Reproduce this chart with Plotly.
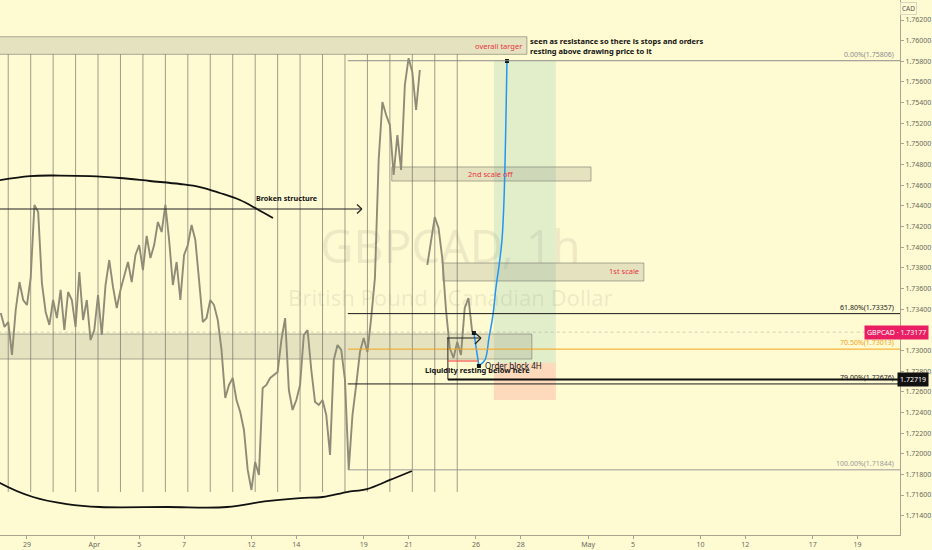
import pandas as pd
import plotly.graph_objects as go

# GBPCAD 1h closes, one value every 4 hours (weekdays only)
prices = [
    1.73363,
    1.73227, 1.73276, 1.72956, 1.73392, 1.73663, 1.73489,  # Mar 26
    1.73440, 1.73702, 1.74409, 1.74341, 1.73653, 1.73373,  # Mar 29
    1.73247, 1.73489, 1.73314, 1.73586, 1.73198, 1.73566,
    1.73489, 1.73227, 1.73760, 1.73295, 1.73489, 1.73101,
    1.73198, 1.73537, 1.73150, 1.73634, 1.73876, 1.73615,
    1.73411, 1.73586, 1.73731, 1.73857, 1.73663, 1.73925,
    1.74021, 1.73779, 1.74109, 1.73895, 1.74021, 1.74244,  # Apr 5
    1.74147, 1.74409, 1.74070, 1.73634, 1.73857, 1.73489,
    1.73925, 1.74021, 1.74215, 1.74070, 1.73682, 1.73276,
    1.73314, 1.73489, 1.73440, 1.73295, 1.73005, 1.72540,
    1.72666, 1.72734, 1.72520, 1.72404, 1.72230, 1.71843,
    1.71649, 1.71920, 1.71794, 1.72637, 1.72666, 1.72734,  # Apr 12
    1.72763, 1.72792, 1.73101, 1.73314, 1.72617, 1.72424,
    1.72520, 1.72666, 1.73150, 1.73198, 1.72811, 1.72501,
    1.72472, 1.72520, 1.72375, 1.71988, 1.72908, 1.73053,
    1.73005, 1.72714, 1.71844, 1.72375, 1.72666, 1.72985,
    1.73121, 1.72985, 1.73314, 1.73702, 1.74844, 1.75406,  # Apr 19
    1.75280, 1.75183, 1.74699, 1.75086, 1.74748, 1.75571,
    1.75830, 1.75696, 1.75329, 1.75716, None, 1.73828,
    1.74070, 1.74292, 1.74186, 1.73895, 1.73392, 1.73024,
    1.72927, 1.73082, 1.72956, 1.73411, 1.73508, 1.73177,
]
times = pd.date_range("2021-03-25 20:00", "2021-04-23 20:00", freq="4h")
times = times[times.dayofweek < 5][: len(prices)]

last_price = 1.73177
ray_price = 1.72719

# fib retracement from the Apr 16 low to the Apr 21 high
fib_labels = ["0.00%", "61.80%", "70.50%", "79.00%", "100.00%"]
fib_prices = [1.75806, 1.73357, 1.73013, 1.72676, 1.71844]
fib_colors = ["#8e8e8e", "#1c1c1c", "#f5a31a", "#1c1c1c", "#9a9a9a"]
fib_start = "2021-04-16 07:00"

# boxes drawn on the chart
zone_x0 = ["2021-03-22", "2021-04-20 06:00", "2021-04-22 12:45", "2021-03-22"]
zone_x1 = ["2021-04-28 06:30", "2021-05-03 03:00", "2021-05-05 11:30", "2021-04-28 11:45"]
zone_low = [1.75868, 1.74641, 1.73673, 1.72917]
zone_high = [1.76038, 1.74777, 1.73847, 1.73159]

# long position tool
pos_x0, pos_x1 = "2021-04-26 19:10", "2021-04-29 13:30"
pos_entry, pos_target, pos_stop = 1.72879, 1.75806, 1.72520

# vertical session lines
day_lines = pd.bdate_range("2021-03-26", "2021-04-23") + pd.Timedelta(hours=4)
day_line_low, day_line_high = 1.71630, 1.75868

# hand drawn arcs
top_arc_t = ["2021-03-25 13:40", "2021-03-29 03:10", "2021-03-30 11:15", "2021-03-31 19:25",
             "2021-04-02 03:25", "2021-04-05 11:30", "2021-04-06 19:40", "2021-04-07 17:00",
             "2021-04-08 14:20", "2021-04-09 11:45", "2021-04-12 05:50", "2021-04-12 23:00"]
top_arc_p = [1.74641, 1.74689, 1.74694, 1.74689, 1.74670, 1.74641, 1.74612, 1.74583,
             1.74525, 1.74457, 1.74370, 1.74283]
bottom_arc_t = ["2021-03-25 12:00", "2021-03-25 19:12", "2021-03-29 06:30", "2021-03-30 18:40",
                "2021-04-01 06:00", "2021-04-06 05:45", "2021-04-08 21:50", "2021-04-12 16:30",
                "2021-04-14 03:50", "2021-04-15 04:20", "2021-04-16 06:00", "2021-04-19 03:20",
                "2021-04-20 04:05", "2021-04-21 03:35"]
bottom_arc_p = [1.71760, 1.71717, 1.71581, 1.71513, 1.71484, 1.71484, 1.71484, 1.71542,
                1.71571, 1.71581, 1.71629, 1.71658, 1.71746, 1.71833]

# projected path (blue)
proj_t = ["2021-04-23 21:50", "2021-04-26 03:10", "2021-04-26 09:40", "2021-04-26 13:55",
          "2021-04-26 18:10", "2021-04-26 21:20", "2021-04-27 00:30", "2021-04-27 03:50",
          "2021-04-27 06:00", "2021-04-27 09:10"]
proj_p = [1.73169, 1.72850, 1.72908, 1.73121, 1.73343, 1.73605, 1.73808, 1.74070,
          1.74457, 1.75803]

# arrows: broken structure + order block
bs_price, bs_x0, bs_x1, bs_arm = 1.74370, "2021-03-22", "2021-04-16 22:00", "2021-04-16 16:50"
ob_price, ob_x0, ob_x1, ob_arm = 1.73121, "2021-04-22 17:00", "2021-04-26 05:20", "2021-04-23 23:00"
ob_left, ob_pink_end, ob_pink = "2021-04-22 18:00", "2021-04-26 02:10", 1.72898

x_ticks = ["2021-03-29", "2021-04-01", "2021-04-05", "2021-04-07", "2021-04-12", "2021-04-14",
           "2021-04-19", "2021-04-21", "2021-04-26", "2021-04-28", "2021-05-03", "2021-05-05",
           "2021-05-10", "2021-05-12", "2021-05-17", "2021-05-19"]
x_tick_text = ["29", "Apr", "5", "7", "12", "14", "19", "21", "26", "28", "May", "5",
               "10", "12", "17", "19"]

# price scale ticks (1.73200 sits under the last-price label)
y_ticks = [1.714, 1.716, 1.718, 1.720, 1.722, 1.724, 1.726, 1.728, 1.730, 1.734, 1.736,
           1.738, 1.740, 1.742, 1.744, 1.746, 1.748, 1.750, 1.752, 1.754, 1.756, 1.758,
           1.760, 1.762]

bg = "#fefad2"
font = "Noto Sans"
far_right = "2021-06-30"

fig = go.Figure()
shapes = []

# long position zones
shapes.append(dict(type="rect", x0=pos_x0, x1=pos_x1, y0=pos_entry, y1=pos_target,
                   fillcolor="rgba(0,150,136,0.11)", line_width=0, layer="below"))
shapes.append(dict(type="rect", x0=pos_x0, x1=pos_x1, y0=pos_stop, y1=pos_entry,
                   fillcolor="rgba(242,54,69,0.16)", line_width=0, layer="below"))

for x0, x1, lo, hi in zip(zone_x0, zone_x1, zone_low, zone_high):
    shapes.append(dict(type="rect", x0=x0, x1=x1, y0=lo, y1=hi,
                       fillcolor="rgba(128,128,120,0.2)",
                       line=dict(color="rgba(110,110,100,0.55)", width=1), layer="below"))

for t in day_lines:
    shapes.append(dict(type="line", x0=t, x1=t, y0=day_line_low, y1=day_line_high,
                       line=dict(color="rgba(100,100,90,0.62)", width=1), layer="below"))

# fib lines
for p, c in zip(fib_prices, fib_colors):
    shapes.append(dict(type="line", x0=fib_start, x1=far_right, y0=p, y1=p,
                       line=dict(color=c, width=1)))

# last price dotted line
shapes.append(dict(type="line", x0="2021-03-22", x1=far_right, y0=last_price, y1=last_price,
                   line=dict(color="rgba(120,120,120,0.3)", width=1, dash="dot")))

# broken structure arrow
shapes.append(dict(type="line", x0=bs_x0, x1=bs_x1, y0=bs_price, y1=bs_price,
                   line=dict(color="#222", width=1.2)))
for dy in (0.00043, -0.00044):
    shapes.append(dict(type="line", x0=bs_arm, x1=bs_x1, y0=bs_price + dy, y1=bs_price,
                       line=dict(color="#222", width=1.2)))

# order block arrow / liquidity box
shapes.append(dict(type="line", x0=ob_x0, x1=ob_x1, y0=ob_price, y1=ob_price,
                   line=dict(color="#222", width=1.2)))
for dy in (0.00048, -0.00058):
    shapes.append(dict(type="line", x0=ob_arm, x1=ob_x1, y0=ob_price + dy, y1=ob_price,
                       line=dict(color="#222", width=1.2)))
shapes.append(dict(type="line", x0=ob_left, x1=ob_left, y0=ob_price, y1=ray_price,
                   line=dict(color="#222", width=1)))
shapes.append(dict(type="line", x0=ob_left, x1=ob_pink_end, y0=ob_pink, y1=ob_pink,
                   line=dict(color="rgba(242,80,80,0.6)", width=2)))
shapes.append(dict(type="line", x0=ob_left, x1=far_right, y0=ray_price, y1=ray_price,
                   line=dict(color="#111", width=2)))

# price
fig.add_trace(go.Scatter(x=times, y=prices, mode="lines",
                         line=dict(color="#8e8c77", width=1.9), hoverinfo="skip"))

# arcs
fig.add_trace(go.Scatter(x=top_arc_t, y=top_arc_p, mode="lines", line_shape="spline",
                         line=dict(color="#111", width=1.8), hoverinfo="skip"))
fig.add_trace(go.Scatter(x=bottom_arc_t, y=bottom_arc_p, mode="lines", line_shape="spline",
                         line=dict(color="#111", width=1.8), hoverinfo="skip"))

# projection
fig.add_trace(go.Scatter(x=proj_t[:2], y=proj_p[:2], mode="lines",
                         line=dict(color="#2196f3", width=1.5), hoverinfo="skip"))
fig.add_trace(go.Scatter(x=proj_t[1:], y=proj_p[1:], mode="lines", line_shape="spline",
                         line=dict(color="#2196f3", width=1.5), hoverinfo="skip"))
fig.add_trace(go.Scatter(x=[proj_t[0], proj_t[1], proj_t[-1]],
                         y=[proj_p[0], proj_p[1], proj_p[-1]], mode="markers",
                         marker=dict(symbol="square", size=4, color="#111"), hoverinfo="skip"))

annotations = []

# watermark
annotations.append(dict(xref="paper", yref="paper", x=0.5, y=0.542, text="GBPCAD, 1h",
                        showarrow=False, font=dict(family=font, size=46,
                                                   color="rgba(120,120,110,0.13)")))
annotations.append(dict(xref="paper", yref="paper", x=0.5, y=0.445,
                        text="British Pound / Canadian Dollar", showarrow=False,
                        font=dict(family=font, size=22, color="rgba(120,120,110,0.13)")))

red = "#e8343f"
annotations.append(dict(x="2021-04-28 03:20", y=1.75948, text="overall targer",
                        xanchor="right", showarrow=False,
                        font=dict(family=font, size=7.5, color=red)))
annotations.append(dict(x="2021-04-28 07:40", y=1.75948, xanchor="left", align="left",
                        text="<b>seen as resistance so there is stops and orders<br>"
                             "resting above drawing price to it</b>",
                        showarrow=False, font=dict(family=font, size=7.5, color="#111")))
annotations.append(dict(x="2021-04-13 13:00", y=1.74476, text="<b>Broken structure</b>",
                        showarrow=False, font=dict(family=font, size=7.2, color="#111")))
annotations.append(dict(x="2021-04-26 16:00", y=1.74709, text="2nd scale off",
                        showarrow=False, font=dict(family=font, size=7.5, color=red)))
annotations.append(dict(x="2021-05-05 08:30", y=1.73769, text="1st scale", xanchor="right",
                        showarrow=False, font=dict(family=font, size=7.5, color=red)))
annotations.append(dict(x="2021-04-26 07:30", y=1.72859, text="Order block 4H",
                        xanchor="left", showarrow=False,
                        font=dict(family=font, size=8, color="#111")))
annotations.append(dict(x="2021-04-21 15:20", y=1.72811, text="<b>Liquidity resting below here</b>",
                        xanchor="left", showarrow=False,
                        font=dict(family=font, size=7.5, color="#111")))

# fib labels
for lab, p, c in zip(fib_labels, fib_prices, fib_colors):
    annotations.append(dict(xref="paper", x=0.996, y=p, xanchor="right", yanchor="bottom",
                            text=f"{lab}({p:.5f})", showarrow=False,
                            font=dict(family=font, size=7, color=c)))

# price axis labels
annotations.append(dict(xref="paper", x=1.032, y=last_price, xanchor="right",
                        text=f"GBPCAD · {last_price:.5f}", showarrow=False,
                        bgcolor="#e91e63", borderpad=2,
                        font=dict(family=font, size=7, color="white")))
annotations.append(dict(xref="paper", x=1.032, y=ray_price, xanchor="right",
                        text=f"{ray_price:.5f}", showarrow=False, bgcolor="#111", borderpad=2,
                        font=dict(family=font, size=7, color="white")))
annotations.append(dict(xref="paper", yref="paper", x=1.019, y=0.996, yanchor="top",
                        text="CAD", showarrow=False, bordercolor="#d8d6c0", borderwidth=1,
                        borderpad=1, font=dict(family=font, size=6.5, color="#555")))

fig.update_layout(
    width=932,
    height=550,
    margin=dict(l=0, r=32, t=0, b=15),
    paper_bgcolor=bg,
    plot_bgcolor=bg,
    showlegend=False,
    shapes=shapes,
    annotations=annotations,
)

fig.update_xaxes(
    type="date",
    range=["2021-03-25 19:12", "2021-05-20 21:20"],
    rangebreaks=[dict(bounds=["sat", "mon"])],
    tickvals=x_ticks,
    ticktext=x_tick_text,
    showgrid=False,
    zeroline=False,
    showline=True,
    linecolor="#a8a690",
    ticks="outside",
    ticklen=3,
    tickcolor="#a8a690",
    tickfont=dict(family=font, size=7, color="#6a6a60"),
)
fig.update_yaxes(
    side="right",
    range=[1.71213, 1.76394],
    tickvals=y_ticks,
    tickformat=".5f",
    showgrid=False,
    zeroline=False,
    showline=True,
    linecolor="#a8a690",
    ticks="outside",
    ticklen=3,
    tickcolor="#a8a690",
    tickfont=dict(family=font, size=7, color="#6a6a60"),
)

# drop the page's default body margin so the figure sits at the window corner
fig.write_html("out.html", config={"displayModeBar": False},
               post_script="document.body.style.margin = '0';")
